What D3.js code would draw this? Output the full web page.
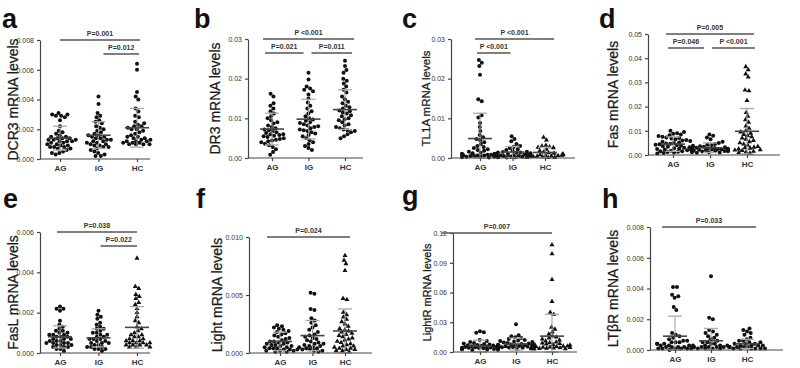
<!DOCTYPE html>
<html>
<head>
<meta charset="UTF-8"/>
<title>mRNA levels</title>
<script src="https://d3js.org/d3.v7.min.js"></script>
<style>
body { margin: 0; background: #fff; font-family: 'Liberation Sans', Arial, sans-serif; }
svg { display: block; }
.axis path, .axis line { stroke: #444; stroke-width: 1.2; }
.axis text { fill: #333; font-size: 7px; }
.xaxis text { font-size: 8px; font-weight: bold; }
.ytitle { fill: #1a1a1a; stroke: #1a1a1a; stroke-width: 0.25; }
.letter { font-size: 27px; font-weight: bold; fill: #111; }
.pval { font-size: 7px; font-weight: bold; fill: #333; }
.bracket { stroke: #555; stroke-width: 1.6; }
</style>
</head>
<body>
<svg width="800" height="368"></svg>
<script>
const groups = ['AG', 'IG', 'HC'];

// panel a - DCR3
const dcr3AG = [0.0031,0.0030,0.0030,0.0029,0.0029,0.0028,0.0026,0.0022,0.0019,0.0018,0.0017,0.0016,0.0015,0.0015,0.0014,0.0014,0.0014,0.0013,0.0013,0.0013,0.0012,0.0012,0.0012,0.0011,0.0011,0.0010,0.0010,0.0009,0.0009,0.0008,0.0008,0.0008,0.0007,0.0007,0.0006,0.0005,0.0004,0.0004,0.0003];
const dcr3IG = [0.0042,0.0037,0.0031,0.0029,0.0028,0.0026,0.0025,0.0024,0.0022,0.0021,0.0020,0.0019,0.0018,0.0017,0.0016,0.0016,0.0015,0.0015,0.0014,0.0014,0.0013,0.0013,0.0012,0.0012,0.0011,0.0011,0.0010,0.0010,0.0009,0.0009,0.0008,0.0008,0.0007,0.0006,0.0005,0.0004,0.0003,0.0002,0.0002];
const dcr3HC = [0.0064,0.0060,0.0045,0.0042,0.0040,0.0034,0.0032,0.0029,0.0028,0.0025,0.0024,0.0023,0.0022,0.0022,0.0021,0.0020,0.0020,0.0019,0.0018,0.0017,0.0016,0.0015,0.0015,0.0014,0.0014,0.0013,0.0013,0.0012,0.0012,0.0012,0.0011,0.0011,0.0011,0.0010,0.0010,0.0010,0.0010];
const dcr3Mean = [0.0014, 0.0016, 0.0021];
const dcr3Sd = [0.0008, 0.0009, 0.0013];

// panel b - DR3
const dr3AG = [0.0162,0.0155,0.0138,0.0132,0.0125,0.0118,0.0112,0.0105,0.0100,0.0095,0.0090,0.0087,0.0082,0.0078,0.0075,0.0072,0.0070,0.0068,0.0065,0.0063,0.0060,0.0060,0.0058,0.0056,0.0055,0.0053,0.0050,0.0048,0.0046,0.0044,0.0042,0.0040,0.0036,0.0032,0.0028,0.0022,0.0015,0.0008];
const dr3IG = [0.0215,0.0198,0.0180,0.0175,0.0172,0.0168,0.0160,0.0150,0.0140,0.0132,0.0125,0.0118,0.0112,0.0105,0.0100,0.0097,0.0094,0.0090,0.0088,0.0085,0.0082,0.0080,0.0078,0.0075,0.0072,0.0070,0.0068,0.0065,0.0062,0.0058,0.0055,0.0050,0.0045,0.0040,0.0035,0.0030,0.0025,0.0020];
const dr3HC = [0.0245,0.0232,0.0222,0.0215,0.0200,0.0195,0.0188,0.0180,0.0172,0.0165,0.0155,0.0148,0.0142,0.0138,0.0132,0.0128,0.0125,0.0120,0.0118,0.0115,0.0112,0.0108,0.0105,0.0100,0.0098,0.0095,0.0090,0.0085,0.0082,0.0078,0.0075,0.0072,0.0070,0.0068,0.0065,0.0060,0.0055,0.0050];
const dr3Mean = [0.0073, 0.0098, 0.0122];
const dr3Sd = [0.0040, 0.0050, 0.0050];

// panel c - TL1A
const tl1aAG = [0.0247,0.0240,0.0232,0.0210,0.0148,0.0143,0.0108,0.0102,0.0088,0.0078,0.0068,0.0058,0.0052,0.0048,0.0045,0.0040,0.0035,0.0030,0.0028,0.0025,0.0022,0.0020,0.0018,0.0016,0.0014,0.0013,0.0012,0.0011,0.0010,0.0009,0.0008,0.0008,0.0007,0.0006,0.0006,0.0005,0.0005,0.0004,0.0004,0.0003,0.0003,0.0002,0.0002,0.0001];
const tl1aIG = [0.0055,0.0048,0.0042,0.0035,0.0030,0.0028,0.0025,0.0022,0.0020,0.0018,0.0016,0.0015,0.0014,0.0013,0.0012,0.0011,0.0010,0.0010,0.0009,0.0008,0.0008,0.0007,0.0006,0.0006,0.0005,0.0005,0.0004,0.0004,0.0003,0.0003,0.0002,0.0002,0.0001];
const tl1aHC = [0.0052,0.0045,0.0032,0.0030,0.0028,0.0027,0.0026,0.0022,0.0018,0.0015,0.0013,0.0012,0.0010,0.0009,0.0008,0.0008,0.0007,0.0006,0.0006,0.0005,0.0005,0.0004,0.0004,0.0003,0.0003,0.0002,0.0002,0.0001];
const tl1aMean = [0.0049, 0.0015, 0.0014];
const tl1aSd = [0.0064, 0.0014, 0.0013];

// panel d - Fas
const fasAG = [0.0100,0.0095,0.0090,0.0088,0.0085,0.0082,0.0078,0.0075,0.0072,0.0070,0.0068,0.0065,0.0062,0.0060,0.0058,0.0055,0.0052,0.0050,0.0048,0.0046,0.0044,0.0042,0.0040,0.0038,0.0036,0.0034,0.0032,0.0030,0.0028,0.0026,0.0025,0.0023,0.0022,0.0020,0.0018,0.0016,0.0015,0.0013,0.0012,0.0010,0.0008,0.0006];
const fasIG = [0.0085,0.0080,0.0072,0.0065,0.0055,0.0050,0.0045,0.0042,0.0040,0.0038,0.0036,0.0034,0.0032,0.0031,0.0030,0.0029,0.0028,0.0027,0.0026,0.0025,0.0024,0.0023,0.0022,0.0021,0.0020,0.0019,0.0018,0.0017,0.0016,0.0015,0.0014,0.0013,0.0012,0.0011,0.0010,0.0009];
const fasHC = [0.0365,0.0352,0.0335,0.0322,0.0268,0.0265,0.0225,0.0175,0.0160,0.0145,0.0135,0.0120,0.0110,0.0100,0.0095,0.0090,0.0085,0.0080,0.0075,0.0070,0.0065,0.0060,0.0055,0.0050,0.0045,0.0040,0.0035,0.0032,0.0030,0.0028,0.0025,0.0022,0.0020,0.0018,0.0015,0.0012,0.0010,0.0008];
const fasMean = [0.0045, 0.0030, 0.0098];
const fasSd = [0.0030, 0.0020, 0.0094];

// panel e - FasL
const faslAG = [0.0023,0.0022,0.0022,0.0021,0.0016,0.0014,0.0013,0.0012,0.0011,0.0011,0.0010,0.0010,0.0009,0.0009,0.0009,0.0008,0.0008,0.0008,0.0007,0.0007,0.0007,0.0006,0.0006,0.0006,0.0005,0.0005,0.0005,0.0005,0.0004,0.0004,0.0004,0.0003,0.0003,0.0003,0.0002,0.0002,0.0001];
const faslIG = [0.0021,0.0019,0.0018,0.0017,0.0015,0.0014,0.0013,0.0012,0.0012,0.0011,0.0010,0.0010,0.0009,0.0009,0.0008,0.0008,0.0007,0.0007,0.0007,0.0006,0.0006,0.0005,0.0005,0.0005,0.0004,0.0004,0.0003,0.0003,0.0003,0.0002,0.0002,0.0002,0.0001];
const faslHC = [0.0047,0.0033,0.0032,0.0029,0.0028,0.0027,0.0025,0.0024,0.0022,0.0020,0.0018,0.0016,0.0015,0.0013,0.0012,0.0011,0.0010,0.0009,0.0009,0.0008,0.0008,0.0007,0.0007,0.0006,0.0006,0.0006,0.0005,0.0005,0.0005,0.0005,0.0004,0.0004,0.0004,0.0004,0.0003,0.0003,0.0003];
const faslMean = [0.0008, 0.00075, 0.00127];
const faslSd = [0.00055, 0.00045, 0.00103];

// panel f - Light
const lightAG = [0.0024,0.0023,0.0022,0.0021,0.0020,0.0019,0.0018,0.0017,0.0016,0.0015,0.0014,0.0013,0.0012,0.0011,0.0010,0.0010,0.0009,0.0009,0.0008,0.0008,0.0007,0.0007,0.0006,0.0006,0.0005,0.0005,0.0004,0.0004,0.0004,0.0003,0.0003,0.0003,0.0002,0.0002,0.0002,0.0001,0.0001];
const lightIG = [0.0052,0.0051,0.0038,0.0037,0.0030,0.0028,0.0026,0.0024,0.0022,0.0020,0.0018,0.0016,0.0015,0.0014,0.0013,0.0012,0.0011,0.0010,0.0009,0.0008,0.0008,0.0007,0.0006,0.0006,0.0005,0.0005,0.0004,0.0004,0.0003,0.0003,0.0002,0.0002,0.0001];
const lightHC = [0.0084,0.0080,0.0077,0.0071,0.0047,0.0046,0.0035,0.0033,0.0031,0.0029,0.0027,0.0025,0.0023,0.0021,0.0020,0.0019,0.0018,0.0017,0.0016,0.0015,0.0014,0.0013,0.0012,0.0011,0.0010,0.0009,0.0008,0.0007,0.0006,0.0006,0.0005,0.0004,0.0004,0.0003,0.0003,0.0002,0.0002,0.0001];
const lightMean = [0.0010, 0.0015, 0.0019];
const lightSd = [0.0008, 0.0013, 0.0019];

// panel g - LightR
const lightrAG = [0.0210,0.0200,0.0195,0.0120,0.0110,0.0100,0.0090,0.0085,0.0080,0.0075,0.0070,0.0068,0.0065,0.0062,0.0060,0.0058,0.0056,0.0054,0.0052,0.0050,0.0048,0.0046,0.0044,0.0042,0.0040,0.0038,0.0036,0.0034,0.0032,0.0030,0.0028,0.0025,0.0022,0.0020];
const lightrIG = [0.0280,0.0170,0.0160,0.0150,0.0140,0.0130,0.0120,0.0115,0.0110,0.0105,0.0100,0.0095,0.0090,0.0085,0.0080,0.0078,0.0075,0.0072,0.0070,0.0068,0.0065,0.0062,0.0060,0.0058,0.0055,0.0052,0.0050,0.0048,0.0045,0.0042,0.0040,0.0035,0.0030];
const lightrHC = [0.1080,0.0990,0.0730,0.0510,0.0400,0.0380,0.0250,0.0230,0.0200,0.0180,0.0160,0.0150,0.0140,0.0130,0.0120,0.0110,0.0100,0.0095,0.0090,0.0085,0.0080,0.0075,0.0070,0.0065,0.0060,0.0058,0.0055,0.0052,0.0050,0.0048,0.0045,0.0042,0.0040,0.0038,0.0035,0.0032,0.0030];
const lightrMean = [0.0060, 0.0080, 0.0160];
const lightrSd = [0.0060, 0.0060, 0.0220];

// panel h - LTbR
const ltbrAG = [0.0041,0.0041,0.0036,0.0035,0.0034,0.0028,0.0026,0.0011,0.0010,0.0009,0.0008,0.0007,0.0006,0.0006,0.0005,0.0005,0.0005,0.0004,0.0004,0.0004,0.0003,0.0003,0.0003,0.0003,0.0002,0.0002,0.0002,0.0002,0.0002,0.0001,0.0001,0.0001,0.0001,0.0001,0.0001,0.0000];
const ltbrIG = [0.0048,0.0021,0.0020,0.0013,0.0012,0.0011,0.0010,0.0009,0.0008,0.0007,0.0006,0.0005,0.0005,0.0004,0.0004,0.0003,0.0003,0.0003,0.0002,0.0002,0.0002,0.0002,0.0002,0.0001,0.0001,0.0001,0.0001];
const ltbrHC = [0.0014,0.0013,0.0012,0.0011,0.0010,0.0008,0.0007,0.0006,0.0006,0.0005,0.0005,0.0004,0.0004,0.0004,0.0003,0.0003,0.0003,0.0003,0.0002,0.0002,0.0002,0.0002,0.0002,0.0001,0.0001,0.0001,0.0001,0.0001,0.0001];
const ltbrMean = [0.0009, 0.0006, 0.0004];
const ltbrSd = [0.0013, 0.0008, 0.0003];

// panels: letter, title, y ticks, p-value brackets
const panels = [
  { letter: 'a', title: 'DCR3 mRNA levels', data: [dcr3AG, dcr3IG, dcr3HC], mean: dcr3Mean, sd: dcr3Sd,
    ticks: [0, 0.002, 0.004, 0.006, 0.008], fmt: '.3f', hcShape: 'circle', tsize: 14,
    brackets: [{ a: 0, b: 2, lvl: 0, p: 'P=0.001', dl: 0, dr: 3 }, { a: 1, b: 2, lvl: 1, p: 'P=0.012', dl: 5, dr: 2 }] },
  { letter: 'b', title: 'DR3 mRNA levels', data: [dr3AG, dr3IG, dr3HC], mean: dr3Mean, sd: dr3Sd,
    ticks: [0, 0.01, 0.02, 0.03], fmt: '.2f', hcShape: 'circle', tsize: 14,
    brackets: [{ a: 0, b: 2, lvl: 0, p: 'P <0.001', dl: -9, dr: 9 }, { a: 0, b: 1, lvl: 1, p: 'P=0.021', dl: -7, dr: -5 }, { a: 1, b: 2, lvl: 1, p: 'P=0.011', dl: 3, dr: 7 }] },
  { letter: 'c', title: 'TL1A mRNA levels', data: [tl1aAG, tl1aIG, tl1aHC], mean: tl1aMean, sd: tl1aSd,
    ticks: [0, 0.01, 0.02, 0.03], fmt: '.2f', hcShape: 'triangle', tsize: 11.5,
    brackets: [{ a: 0, b: 2, lvl: 0, p: 'P <0.001', dl: -5, dr: 9 }, { a: 0, b: 1, lvl: 1, p: 'P <0.001', dl: -3, dr: -2 }] },
  { letter: 'd', title: 'Fas mRNA levels', data: [fasAG, fasIG, fasHC], mean: fasMean, sd: fasSd,
    ticks: [0, 0.01, 0.02, 0.03, 0.04, 0.05], fmt: '.2f', hcShape: 'triangle', tsize: 14,
    brackets: [{ a: 0, b: 2, lvl: 0, p: 'P=0.005', dl: -7, dr: 7 }, { a: 0, b: 1, lvl: 1, p: 'P=0.046', dl: -5, dr: -6 }, { a: 1, b: 2, lvl: 1, p: 'P <0.001', dl: 2, dr: 8 }] },
  { letter: 'e', title: 'FasL mRNA levels', data: [faslAG, faslIG, faslHC], mean: faslMean, sd: faslSd,
    ticks: [0, 0.002, 0.004, 0.006], fmt: '.3f', hcShape: 'triangle', tsize: 14,
    brackets: [{ a: 0, b: 2, lvl: 0, p: 'P=0.038', dl: -3, dr: 0 }, { a: 1, b: 2, lvl: 1, p: 'P=0.022', dl: 2, dr: 0 }] },
  { letter: 'f', title: 'Light mRNA levels', data: [lightAG, lightIG, lightHC], mean: lightMean, sd: lightSd,
    ticks: [0, 0.005, 0.010], fmt: '.3f', hcShape: 'triangle', tsize: 14,
    brackets: [{ a: 0, b: 2, lvl: 0, p: 'P=0.024', dl: -13, dr: 5 }] },
  { letter: 'g', title: 'LightR mRNA levels', data: [lightrAG, lightrIG, lightrHC], mean: lightrMean, sd: lightrSd,
    ticks: [0, 0.03, 0.06, 0.09, 0.12], fmt: '.2f', hcShape: 'triangle', tsize: 11,
    brackets: [{ a: 0, b: 2, lvl: 0, p: 'P=0.007', dl: -38, dr: 0 }] },
  { letter: 'h', title: 'LT\u03b2R mRNA levels', data: [ltbrAG, ltbrIG, ltbrHC], mean: ltbrMean, sd: ltbrSd,
    ticks: [0, 0.002, 0.004, 0.006, 0.008], fmt: '.3f', hcShape: 'circle', tsize: 14,
    brackets: [{ a: 0, b: 2, lvl: 0, p: 'P=0.033', dl: -13, dr: 9 }] }
];

// layout of each panel in the 800x368 frame
const layout = [
  { ax: 40,  xEnd: 150, top: 40,  bot: 159, cx: [60, 137],  titleX: 13,  lx: 2,   ly: 28 },
  { ax: 248, xEnd: 363, top: 39,  bot: 158, cx: [272, 345], titleX: 215, lx: 194, ly: 28 },
  { ax: 451, xEnd: 575, top: 39,  bot: 158, cx: [480, 545], titleX: 426, lx: 402, ly: 28 },
  { ax: 648, xEnd: 780, top: 34,  bot: 155, cx: [673, 747], titleX: 613, lx: 599, ly: 28 },
  { ax: 40,  xEnd: 150, top: 232, bot: 353, cx: [60, 137],  titleX: 13,  lx: 3,   ly: 208 },
  { ax: 249, xEnd: 372, top: 237, bot: 353, cx: [280, 345], titleX: 217, lx: 196, ly: 208 },
  { ax: 453, xEnd: 577, top: 233, bot: 352, cx: [480, 552], titleX: 427, lx: 402, ly: 205 },
  { ax: 650, xEnd: 783, top: 227, bot: 350, cx: [675, 747], titleX: 613, lx: 602, ly: 208 }
];

const svg = d3.select('svg');
svg.append('rect').attr('width', 800).attr('height', 368).attr('fill', '#fff');

const triangle = d3.symbol().type(d3.symbolTriangle).size(11);

panels.forEach((p, i) => {
  const L = layout[i];
  const g = svg.append('g');

  const yScale = d3.scaleLinear()
    .domain([0, d3.max(p.ticks)])
    .range([L.bot, L.top]);

  const xScale = d3.scalePoint()
    .domain(groups)
    .range(L.cx);

  // dots, spread out with a small collision force (beeswarm)
  p.data.forEach((vals, gi) => {
    const cx = xScale(groups[gi]);
    const nodes = vals.map(v => ({ x: cx, y: yScale(v), fy: yScale(v) }));
    d3.forceSimulation(nodes)
      .force('x', d3.forceX(cx).strength(0.12))
      .force('collide', d3.forceCollide(2))
      .stop()
      .tick(200);
    nodes.forEach(n => { n.x = Math.max(cx - 18, Math.min(cx + 18, n.x)); });

    const shape = gi === 2 ? p.hcShape : 'circle';
    if (shape === 'circle') {
      g.selectAll(null).data(nodes).enter().append('circle')
        .attr('cx', d => d.x).attr('cy', d => d.fy)
        .attr('r', 2).attr('fill', '#111');
    } else {
      g.selectAll(null).data(nodes).enter().append('path')
        .attr('d', triangle)
        .attr('transform', d => `translate(${d.x},${d.fy})`)
        .attr('fill', '#111');
    }

    // mean and SD
    const m = p.mean[gi], s = p.sd[gi];
    const yHi = yScale(m + s), yLo = yScale(Math.max(0, m - s));
    g.append('line').attr('x1', cx).attr('x2', cx).attr('y1', yHi).attr('y2', yLo)
      .attr('stroke', '#999').attr('stroke-width', 1);
    g.append('line').attr('x1', cx - 7).attr('x2', cx + 7).attr('y1', yHi).attr('y2', yHi)
      .attr('stroke', '#aaa').attr('stroke-width', 1.3);
    g.append('line').attr('x1', cx - 7).attr('x2', cx + 7).attr('y1', yLo).attr('y2', yLo)
      .attr('stroke', '#aaa').attr('stroke-width', 1.3);
    g.append('line').attr('x1', cx - 12).attr('x2', cx + 12).attr('y1', yScale(m)).attr('y2', yScale(m))
      .attr('stroke', '#444').attr('stroke-width', 1.6);
  });

  // axes
  g.append('g')
    .attr('class', 'axis')
    .attr('transform', `translate(${L.ax},0)`)
    .call(d3.axisLeft(yScale).tickValues(p.ticks).tickSize(3).tickSizeOuter(0).tickFormat(d3.format(p.fmt)));

  const xAxis = g.append('g')
    .attr('class', 'axis xaxis')
    .attr('transform', `translate(0,${L.bot})`)
    .call(d3.axisBottom(xScale).tickSize(3).tickPadding(3));
  xAxis.select('.domain').remove();
  xAxis.append('line')
    .attr('x1', L.ax).attr('x2', L.xEnd).attr('y1', 0).attr('y2', 0);

  // y title
  g.append('text')
    .attr('class', 'ytitle')
    .attr('transform', `translate(${L.titleX},${(L.top + L.bot) / 2}) rotate(-90)`)
    .attr('text-anchor', 'middle')
    .attr('dy', '0.35em')
    .style('font-size', p.tsize + 'px')
    .text(p.title);

  // panel letter
  g.append('text')
    .attr('class', 'letter')
    .attr('x', L.lx).attr('y', L.ly)
    .text(p.letter);

  // p-value brackets
  p.brackets.forEach(b => {
    const x1 = xScale(groups[b.a]) + b.dl;
    const x2 = xScale(groups[b.b]) + b.dr;
    const yb = L.top + b.lvl * 14;
    g.append('line').attr('class', 'bracket')
      .attr('x1', x1).attr('x2', x2).attr('y1', yb).attr('y2', yb);
    g.append('text').attr('class', 'pval')
      .attr('x', (x1 + x2) / 2).attr('y', yb - 4)
      .attr('text-anchor', 'middle')
      .text(b.p);
  });
});
</script>
</body>
</html>
